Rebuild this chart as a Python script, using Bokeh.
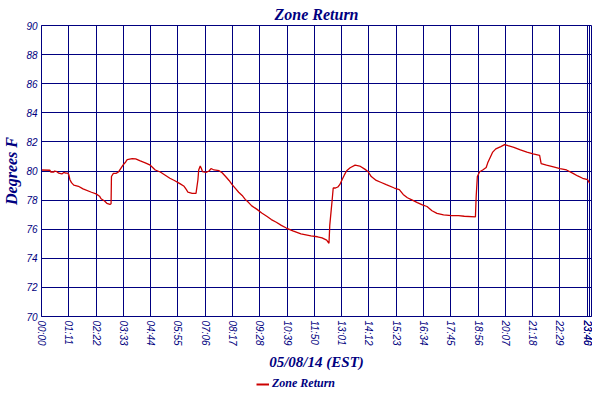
from bokeh.plotting import figure
from bokeh.layouts import column
from bokeh.models import FixedTicker, Legend, LegendItem, Range1d
from bokeh.embed import file_html
from bokeh.resources import INLINE

# minutes since midnight, 05/08/14 (EST)
minutes = [0, 22, 24, 32, 34, 40, 45, 53, 58, 63, 68, 71, 74, 78, 84, 96, 108, 130, 142, 151,
           155, 164, 170, 178, 181, 182, 187, 194, 200, 206, 212, 219, 223, 236, 245, 257, 270,
           283, 296, 309, 321, 334, 347, 360, 371, 377, 381, 392, 402, 407, 409, 413, 416, 419,
           428, 436, 441, 449, 462, 470, 479, 488, 496, 505, 513, 522, 530, 539, 547, 560, 573,
           586, 598, 611, 624, 637, 654, 675, 701, 718, 730, 742, 746, 748, 750, 754, 756, 759,
           765, 771, 776, 782, 788, 794, 803, 816, 828, 841, 850, 858, 871, 884, 897, 918, 931,
           941, 952, 965, 978, 991, 1003, 1016, 1029, 1046, 1067, 1085, 1100, 1129, 1131, 1134,
           1140, 1148, 1157, 1161, 1168, 1174, 1182, 1195, 1205, 1214, 1229, 1246, 1263, 1279,
           1296, 1300, 1314, 1332, 1349, 1366, 1383, 1395, 1408, 1421, 1426]
zone_return = [80.07, 80.05, 79.93, 79.93, 80.0, 79.95, 79.85, 79.8, 79.9, 79.85, 79.85, 79.75,
               79.4, 79.2, 79.03, 78.95, 78.77, 78.54, 78.43, 78.27, 78.09, 77.94, 77.78, 77.7,
               77.75, 79.62, 79.84, 79.84, 79.93, 80.17, 80.4, 80.62, 80.78, 80.85, 80.83, 80.69,
               80.56, 80.4, 80.07, 79.93, 79.73, 79.5, 79.33, 79.13, 78.95, 78.72, 78.54, 78.46,
               78.46, 79.4, 80.07, 80.34, 80.17, 79.95, 79.9, 80.0, 80.17, 80.07, 80.02, 79.88,
               79.62, 79.35, 79.06, 78.79, 78.54, 78.32, 78.05, 77.83, 77.6, 77.38, 77.11, 76.89,
               76.66, 76.48, 76.26, 76.08, 75.88, 75.68, 75.54, 75.48, 75.4, 75.25, 75.1, 75.03,
               76.26, 77.38, 77.94, 78.83, 78.83, 78.9, 79.06, 79.4, 79.73, 80.02, 80.22, 80.4,
               80.34, 80.13, 79.95, 79.62, 79.35, 79.21, 79.06, 78.83, 78.72, 78.39, 78.16, 78.0,
               77.83, 77.67, 77.56, 77.27, 77.09, 76.98, 76.93, 76.93, 76.89, 76.85, 78.27, 79.62,
               79.95, 80.07, 80.24, 80.56, 80.96, 81.3, 81.52, 81.68, 81.81, 81.74, 81.63, 81.45,
               81.3, 81.18, 81.07, 80.51, 80.4, 80.29, 80.17, 80.07, 79.84, 79.66, 79.5, 79.4,
               79.17]

x_ticks = [0, 71, 142, 213, 284, 355, 426, 497, 568, 639, 710, 781, 852, 923, 994, 1065,
           1136, 1207, 1278, 1349, 1420, 1426]
x_tick_labels = ["00:00", "01:11", "02:22", "03:33", "04:44", "05:55", "07:06", "08:17",
                 "09:28", "10:39", "11:50", "13:01", "14:12", "15:23", "16:34", "17:45",
                 "18:56", "20:07", "21:18", "22:29", "23:40", "23:46"]
y_ticks = [70, 72, 74, 76, 78, 80, 82, 84, 86, 88, 90]
series_name = "Zone Return"

NAVY = "#000080"
RED = "#CC0000"
SERIF = "Liberation Serif"

p = figure(width=592, height=372, output_backend="svg", toolbar_location=None,
           x_range=Range1d(0, 1431), y_range=Range1d(70, 90),
           title="Zone Return",
           min_border_left=39, min_border_right=1, min_border_top=25, min_border_bottom=52)
p.title.align = "center"
p.title.text_color = NAVY
p.title.text_font = SERIF
p.title.text_font_style = "bold italic"
p.title.text_font_size = "16px"
p.title.standoff = 5
p.background_fill_color = "white"
p.outline_line_color = NAVY
p.outline_line_width = 1

p.line(minutes, zone_return, line_color=RED, line_width=1.3)

p.xaxis.ticker = FixedTicker(ticks=x_ticks)
p.xaxis.major_label_overrides = {t: l for t, l in zip(x_ticks, x_tick_labels)}
p.xaxis.major_label_orientation = "vertical"
p.yaxis.ticker = FixedTicker(ticks=y_ticks)
p.xaxis.axis_label = "05/08/14 (EST)"
p.yaxis.axis_label = "Degrees F"
for ax in (p.xaxis[0], p.yaxis[0]):
    ax.axis_line_color = NAVY
    ax.major_tick_line_color = None
    ax.minor_tick_line_color = None
    ax.major_tick_out = 0
    ax.major_tick_in = 0
    ax.minor_tick_out = 0
    ax.minor_tick_in = 0
    ax.major_label_text_color = NAVY
    ax.major_label_text_font = "Liberation Sans"
    ax.major_label_text_font_style = "italic"
    ax.major_label_text_font_size = "10px"
    ax.major_label_standoff = 4
    ax.axis_label_text_color = NAVY
    ax.axis_label_text_font = SERIF
    ax.axis_label_text_font_style = "bold italic"
p.xaxis.axis_label_text_font_size = "15px"
p.xaxis.axis_label_standoff = 5
p.yaxis.axis_label_text_font_size = "16px"
p.yaxis.axis_label_standoff = 3

p.xgrid.ticker = FixedTicker(ticks=x_ticks)
p.ygrid.ticker = FixedTicker(ticks=y_ticks)
for g in (p.xgrid[0], p.ygrid[0]):
    g.grid_line_color = NAVY
    g.grid_line_width = 1
    g.grid_line_alpha = 1

# legend strip below the chart (its key line uses the series, kept out of view)
lg = figure(width=592, height=20, output_backend="svg", toolbar_location=None,
            x_range=Range1d(0, 1431), y_range=Range1d(90, 100),
            x_axis_location=None, y_axis_location=None,
            min_border_left=0, min_border_right=0, min_border_top=0, min_border_bottom=0)
lg.outline_line_color = None
lg.xgrid.visible = False
lg.ygrid.visible = False
key = lg.line(minutes, zone_return, line_color=RED, line_width=2)
legend = Legend(items=[LegendItem(label=series_name, renderers=[key])],
                location=(215, 1), orientation="horizontal",
                padding=0, margin=0, border_line_color=None, background_fill_alpha=0,
                glyph_width=13, glyph_height=12, label_height=12, label_standoff=3,
                label_text_font=SERIF, label_text_font_style="bold italic",
                label_text_font_size="12px", label_text_color=NAVY)
lg.add_layout(legend, "center")

layout = column(p, lg, spacing=0)
open("out.html", "w").write(file_html(layout, INLINE))
